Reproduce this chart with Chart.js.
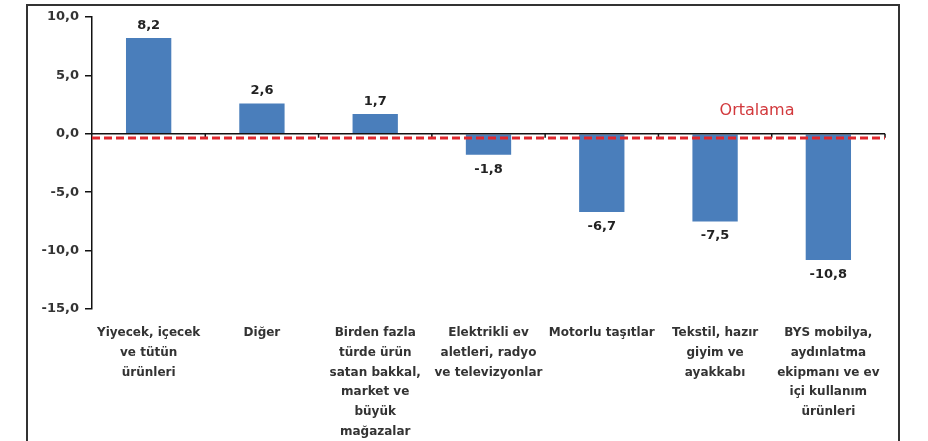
<!DOCTYPE html>
<html>
<head>
<meta charset="utf-8">
<script src="https://cdn.jsdelivr.net/npm/chart.js@4.4.1/dist/chart.umd.min.js"></script>
<style>
  html, body { margin: 0; padding: 0; background: #fff; }
  #wrap { position: relative; width: 928px; height: 441px; overflow: hidden; }
  #frame {
    position: absolute; left: 26px; top: 4px; width: 870px; height: 460px;
    border: 2px solid #333; pointer-events: none;
  }
</style>
</head>
<body>
<div id="wrap">
  <canvas id="chart" width="928" height="441"></canvas>
  <div id="frame"></div>
</div>
<script>
  // Categories (multi-line labels as drawn under the axis)
  const categories = [
    ["Yiyecek, içecek", "ve tütün", "ürünleri"],
    ["Diğer"],
    ["Birden fazla", "türde ürün", "satan bakkal,", "market ve", "büyük", "mağazalar"],
    ["Elektrikli ev", "aletleri, radyo", "ve televizyonlar"],
    ["Motorlu taşıtlar"],
    ["Tekstil, hazır", "giyim ve", "ayakkabı"],
    ["BYS mobilya,", "aydınlatma", "ekipmanı ve ev", "içi kullanım", "ürünleri"]
  ];
  const values = [8.2, 2.6, 1.7, -1.8, -6.7, -7.5, -10.8];
  const averageValue = -0.35;
  const averageLabel = "Ortalama";
  const yTicks = [10, 5, 0, -5, -10, -15];

  // Turkish decimal comma
  function fmt(v) {
    return v.toFixed(1).replace(".", ",");
  }

  const FONT = "'DejaVu Sans', sans-serif";

  // Zero axis with tick marks between categories, average line, value labels
  const overlay = {
    id: "overlay",
    afterDatasetsDraw(chart) {
      const { ctx, chartArea, scales } = chart;
      const x = scales.x, y = scales.y;
      const y0 = y.getPixelForValue(0);
      const step = x.getPixelForValue(1) - x.getPixelForValue(0);

      ctx.save();
      // zero axis
      ctx.strokeStyle = "#111";
      ctx.lineWidth = 1.5;
      ctx.beginPath();
      ctx.moveTo(chartArea.left, y0);
      ctx.lineTo(chartArea.right, y0);
      for (let i = 0; i < categories.length; i++) {
        const bx = x.getPixelForValue(i) + step / 2;
        ctx.moveTo(bx, y0);
        ctx.lineTo(bx, y0 + 4);
      }
      ctx.stroke();

      // average line
      const ya = y.getPixelForValue(averageValue);
      ctx.strokeStyle = "#e0282e";
      ctx.lineWidth = 3;
      ctx.setLineDash([8, 4]);
      ctx.beginPath();
      ctx.moveTo(chartArea.left, ya);
      ctx.lineTo(chartArea.right, ya);
      ctx.stroke();
      ctx.setLineDash([]);

      ctx.fillStyle = "#d2383c";
      ctx.font = "16px " + FONT;
      ctx.textAlign = "center";
      ctx.textBaseline = "middle";
      ctx.fillText(averageLabel, x.getPixelForValue(5.37), y.getPixelForValue(2.0));

      // value labels
      ctx.fillStyle = "#222";
      ctx.font = "bold 13px " + FONT;
      const meta = chart.getDatasetMeta(0);
      meta.data.forEach((bar, i) => {
        const v = values[i];
        if (v >= 0) {
          ctx.textBaseline = "bottom";
          ctx.fillText(fmt(v), bar.x, bar.y - 6);
        } else {
          ctx.textBaseline = "top";
          ctx.fillText(fmt(v), bar.x, bar.y + 8);
        }
      });
      ctx.restore();
    }
  };

  new Chart(document.getElementById("chart").getContext("2d"), {
    type: "bar",
    data: {
      labels: categories,
      datasets: [{
        data: values,
        backgroundColor: "#4a7ebb",
        barPercentage: 0.8,
        categoryPercentage: 0.5
      }]
    },
    options: {
      responsive: false,
      animation: false,
      layout: { padding: { top: 17, right: 43, left: 0, bottom: 0 } },
      plugins: {
        legend: { display: false },
        tooltip: { enabled: false }
      },
      scales: {
        x: {
          grid: { display: false },
          border: { display: false },
          ticks: {
            color: "#333",
            maxRotation: 0,
            autoSkip: false,
            padding: 6,
            font: { family: FONT, size: 12, weight: "bold", lineHeight: 1.65 }
          },
          afterFit(scale) { scale.height = 132; }
        },
        y: {
          min: -15,
          max: 10,
          afterBuildTicks(scale) {
            scale.ticks = yTicks.map(v => ({ value: v }));
          },
          grid: { drawOnChartArea: false, tickLength: 7, color: "#111", lineWidth: 1.5 },
          border: { display: true, color: "#111", width: 1.5 },
          ticks: {
            color: "#333",
            padding: 6,
            font: { family: FONT, size: 13, weight: "bold" },
            callback: v => fmt(v)
          },
          afterFit(scale) { scale.width = 92; }
        }
      }
    },
    plugins: [overlay]
  });
</script>
</body>
</html>
